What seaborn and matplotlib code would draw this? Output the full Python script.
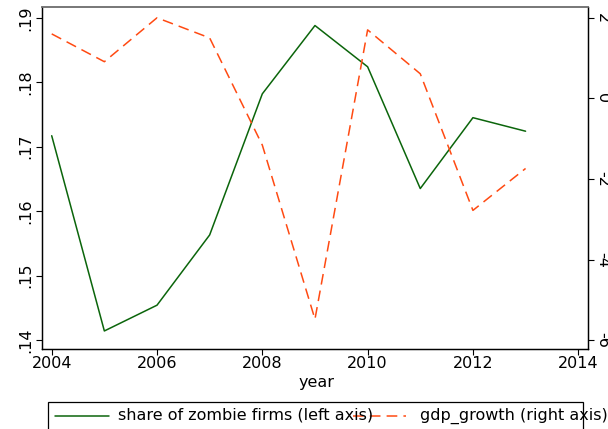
import matplotlib
matplotlib.use("Agg")
import matplotlib.pyplot as plt
import seaborn as sns
import pandas as pd
from matplotlib.patches import Rectangle
from matplotlib.lines import Line2D

years = [2004, 2005, 2006, 2007, 2008, 2009, 2010, 2011, 2012, 2013]
zombie_share = [0.1717, 0.1414, 0.1454, 0.1563, 0.1782, 0.1888, 0.1824, 0.1635, 0.1745, 0.1724]
gdp_growth = [1.60, 0.91, 2.00, 1.50, -1.16, -5.48, 1.70, 0.61, -2.78, -1.74]
x_ticks = [2004, 2006, 2008, 2010, 2012, 2014]
left_ticks = [0.14, 0.15, 0.16, 0.17, 0.18, 0.19]
left_labels = [".14", ".15", ".16", ".17", ".18", ".19"]
right_ticks = [-6, -4, -2, 0, 2]
right_labels = ["-6", "-4", "-2", "0", "2"]
legend_labels = ["share of zombie firms (left axis)", "gdp_growth (right axis)"]

sns.set_style("white")
plt.rcParams['font.family'] = ['DejaVu Sans']
plt.rcParams['text.color'] = 'black'
plt.rcParams['xtick.color'] = 'black'
plt.rcParams['ytick.color'] = 'black'
plt.rcParams['axes.labelcolor'] = 'black'
FS = 11.5

df = pd.DataFrame({"year": years, "zombie": zombie_share, "gdp": gdp_growth})

W, H = 608, 429
fig = plt.figure(figsize=(W / 100, H / 100), dpi=100)
ax = fig.add_axes([41.7 / W, 1 - 349 / H, (587.7 - 41.7) / W, (349 - 7.3) / H])
ax2 = ax.twinx()

green = "#0b650b"
orange = "#ff4a12"
sns.lineplot(data=df, x="year", y="zombie", ax=ax, color=green, lw=1.1)
sns.lineplot(data=df, x="year", y="gdp", ax=ax2, color=orange, lw=1.1)
ax2.lines[0].set_dashes((7, 4))

ax.set_xlim(2003.81, 2014.18)
ax.set_ylim(0.1386, 0.19163)
ax2.set_ylim(-6.22, 2.26)

ax.set_xticks(x_ticks)
ax.set_xticklabels([str(t) for t in x_ticks])
ax.set_yticks(left_ticks)
ax.set_yticklabels(left_labels, rotation=90, va="center")
ax2.set_yticks(right_ticks)
ax2.set_yticklabels(right_labels, rotation=270, va="center")

for a in (ax, ax2):
    a.set_xlabel("")
    a.set_ylabel("")
    a.tick_params(length=4, width=0.8, color="black", labelcolor="black", labelsize=FS, direction="out")
    for s in a.spines.values():
        s.set_color("black")
        s.set_linewidth(0.9)
    a.spines["top"].set_color("#777777")
    a.spines["top"].set_linewidth(1.2)
ax.tick_params(axis="y", left=True, pad=2.2)
ax2.tick_params(axis="y", right=True, pad=1.2)
ax.tick_params(axis="x", bottom=True, pad=0.8)

fig.text(316.4 / W, 1 - 382.7 / H, "year", ha="center", va="center", fontsize=FS, color="black")

# legend box (clipped at bottom like the reference)
fig.patches.append(Rectangle((47.5 / W, -0.05), (583 - 47.5) / W, 0.05 + 1 - 401.7 / H,
                             transform=fig.transFigure, fill=False, edgecolor="black", lw=0.9))
ly = 1 - 415.5 / H
fig.lines.append(Line2D([55 / W, 109 / W], [ly, ly], transform=fig.transFigure, color=green, lw=1.1))
fig.text(118.5 / W, ly, legend_labels[0], ha="left", va="center", fontsize=FS, color="black")
fig.lines.append(Line2D([353 / W, 406 / W], [ly, ly], transform=fig.transFigure, color=orange, lw=1.1,
                        dashes=(7, 4)))
fig.text(419.5 / W, ly, legend_labels[1], ha="left", va="center", fontsize=FS, color="black")

fig.savefig("out.png", dpi=100)
